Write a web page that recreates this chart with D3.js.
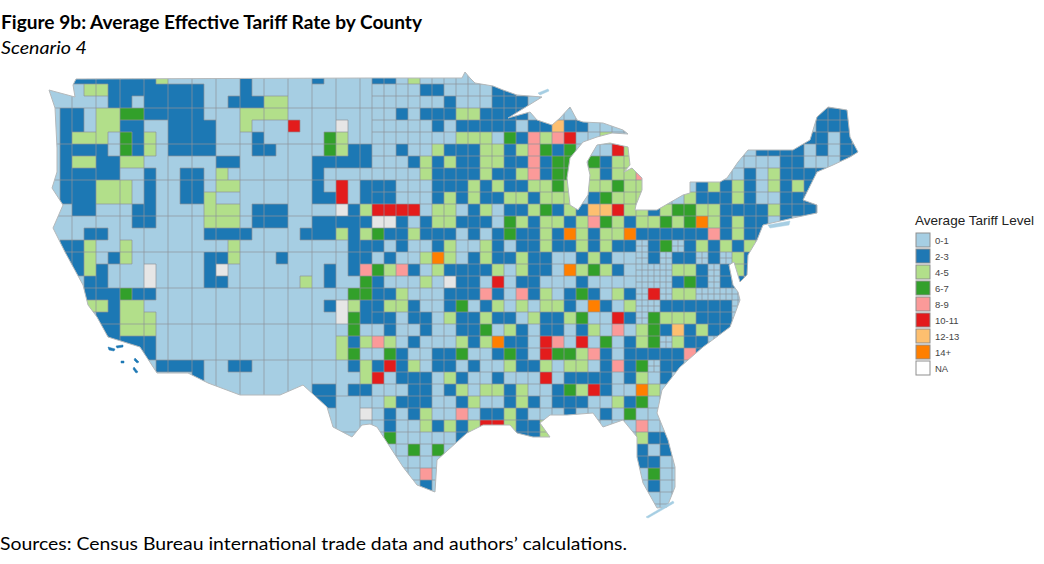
<!DOCTYPE html>
<html><head><meta charset="utf-8">
<script src="https://cdn.jsdelivr.net/npm/d3@7"></script>
<style>html,body{margin:0;padding:0;background:#fff;overflow:hidden}svg{display:block}</style>
</head><body><svg id="c" width="1044" height="564"></svg>
<script>
const titleText="Figure 9b: Average Effective Tariff Rate by County";
const subtitleText="Scenario 4";
const sourceText="Sources: Census Bureau international trade data and authors’ calculations.";
const legendTitle="Average Tariff Level";
const classKeys=[".","b","g","G","p","r","y","o","n"];
const legendLabels=["0-1","2-3","4-5","6-7","8-9","10-11","12-13","14+","NA"];
const legendColors=["#a6cee3","#1f78b4","#b2df8a","#33a02c","#fb9a99","#e31a1c","#fdbf6f","#ff7f00","#ffffff"];
// county tariff class on a regular map grid
const countyRows=[
"..bbbbbbbg......b.....b....bb.g",
"...ggbbbbbbbb...b..............bb....bb",
".....bb.bbbbb..bbbgg.............b...bbb.........................b",
".bb.ggGGbbbbb...gggg.........b.bbbggbbbb........................bbb",
".bb.ggbb..bbbb..g...r...n.......b.bbbbb.bbybb...................bbb",
".bggg.Gbg.bbbb...b.....Gg.........ggg.Gbpgpr..g................bb.b",
".bbbb.Gbg.bbbb...bb....Ggbb..b..gbbbggbgpGbG...rg..........bbbb.b.bb",
".bggbbgg......bb......bbbbb...bgbgbbggbbpbGG.Gbgg............bb...b",
".bbbbb..b..bb.g.......b........gbbbbgbbgpbGG.gbggp........b.gbbbb",
".bbbggg.b..bb.gg......b.r.bbb...bbbgbgbbggGg.ggGgg....bgbgb.gbgbb",
".bbbggg.b..bbg........bbr.bbb...bgbgbbggbggg.bGggg...gbbbgb..bbb",
"..bb...bb....ggg.bbb....nbgrrrr.gg.bg.bbgGbgbyyrggbgGGggbbbbgbbbb",
".......bb....ggg.bbb..bbbbbnnb.bggbbb.GgbggbgpGgbggGgGogbgbb.b",
"...bb........bbbb....bbbgbgGbbgbbb.b.bGbbgbogbggobbbbbbpbgbb",
".bbg..g........g.........bbb.b..bg..gb.bbgbbgbgbb.bG.bgbgbg",
".bbg.bg......bbg...b.....bb.b..gog.bgbbgbb..bgb...b.bb.b.gbb",
".bbgb...n....bn........b.bpGgpb.gbbbbg.gbb.ogGgb....ggb.bgb",
"...bb...n....bb......g.b..Gb...g.nbb.r.bb...b.......bGb.bb",
"...bbbGbb................GGbbg...bbbpb.pbg.bGb.gb.r.gg.",
"...ggbgg...............bngbbggb..bG.bg.g.ggb.ob.g..bbbbbb",
"....bbggg...............nGbbb.bb.gbbgbb.gbbgG..rb.Ggggbbb",
"....bbggg................G..b..b..bbG.gb.bb.bg.p.gGbybgbb",
".....bbbb...............gbgpg.b...gbgobb.rp.r.G.bgG.gbb",
".......bb...............gG..Gb..bbG..bGb.rGGgpb.bbbbbpb",
".........bbbb..bb........bgbrbg.bb.b..gbbg.gg.bpbG.bb",
"............b.............gr.bbb.gb..b...r.bbbb.bg.b",
"......................bb.bb...bb.bg.ggbg..bGgrb..og",
"......................bb....gbbb..bg..bgb.bbb..gbG",
"..........................n.b.bg..p.bbgb...b..b.G",
"............................b..gbgbgrrgbbgg......p",
"............................G.....b....bbg.......gbb",
"..............................G.G................b.b",
".................................................bb",
"...............................p..................G",
"...............................b..................b",
"",
""
];
// national outline, in map units
const outline=[[1,18],[27,25],[25,13],[28,7],[322,6],[414,6],[417,0],[422,6],[427,11],[445,14],[455,18],[469,23],[494,25],[460,46],[482,40],[489,48],[504,53],[512,46],[522,35],[529,48],[535,50],[555,51],[575,58],[580,62],[564,61],[549,65],[535,70],[522,86],[519,106],[522,133],[530,138],[540,123],[542,103],[539,90],[549,73],[562,71],[580,75],[582,93],[576,100],[584,96],[594,106],[594,118],[588,133],[587,138],[609,138],[635,123],[642,121],[642,110],[672,110],[679,106],[690,90],[700,78],[745,78],[762,68],[769,45],[780,35],[799,38],[802,65],[810,80],[802,85],[785,93],[769,100],[760,118],[755,128],[769,133],[769,141],[759,143],[745,146],[715,153],[709,168],[700,183],[699,203],[692,210],[686,190],[681,193],[685,213],[690,220],[692,228],[682,255],[655,275],[632,295],[614,318],[609,341],[620,368],[627,395],[627,415],[619,435],[609,436],[595,411],[589,385],[589,365],[575,348],[555,355],[545,341],[519,343],[502,343],[492,351],[502,365],[485,365],[469,361],[462,353],[435,353],[419,361],[389,388],[387,420],[369,413],[355,395],[342,375],[329,355],[322,352],[314,353],[304,365],[285,355],[279,335],[255,313],[232,323],[192,323],[160,311],[140,301],[109,301],[92,275],[60,265],[49,245],[40,233],[35,213],[17,180],[5,156],[15,133],[4,116],[9,100],[9,76],[7,36]];
const islands=[
 {c:".",p:[[720,153],[742,149],[741,153],[722,156]]},
 {c:"b",p:[[60,275],[67,277],[66,279],[61,278]]},
 {c:"b",p:[[68,274],[75,273],[75,275],[69,276]]},
 {c:"b",p:[[73,289],[76,289],[76,291],[73,291]]},
 {c:"b",p:[[87,286],[91,290],[89,291],[86,288]]},
 {c:"b",p:[[86,295],[90,300],[88,301],[85,297]]},
 {c:".",p:[[598,445],[625,429],[626,431],[600,446]]},
 {c:".",p:[[490,21],[500,17],[501,19],[492,23]]}
];

const svg=d3.select("#c");
const nCols=68,nRows=countyRows.length;
const x=d3.scaleBand().domain(d3.range(nCols)).range([48,864]);
const y=d3.scaleBand().domain(d3.range(nRows)).range([72,516]);
const mapX=d3.scaleLinear().domain([0,816]).range([48,864]);
const mapY=d3.scaleLinear().domain([0,444]).range([72,516]);
const colorOf=d3.scaleOrdinal().domain(classKeys).range(["#a6cee3","#1f78b4","#b2df8a","#33a02c","#fb9a99","#e31a1c","#fdbf6f","#ff7f00","#e6e6e6"]);
const line=d3.line().x(d=>mapX(d[0])).y(d=>mapY(d[1])).curve(d3.curveLinearClosed);
const cellAt=(r,c)=>(countyRows[r]||"")[c]||".";

svg.append("clipPath").attr("id","us").append("path").attr("d",line(outline));
const defs=svg.append("defs");
defs.append("filter").attr("id","soft").append("feGaussianBlur").attr("stdDeviation",0.35);
const map=svg.append("g").attr("filter","url(#soft)");
const inner=map.append("g").attr("clip-path","url(#us)");
const cells=[];
d3.range(nRows).forEach(r=>d3.range(nCols).forEach(c=>cells.push({r,c,k:cellAt(r,c)})));
inner.selectAll("rect").data(cells).join("rect")
 .attr("x",d=>x(d.c)).attr("y",d=>y(d.r)).attr("width",x.bandwidth()+.3).attr("height",y.bandwidth()+.3)
 .attr("fill",d=>colorOf(d.k));
// county boundaries: every cell edge in the east, a coarser mesh in the west, and wherever classes differ
const edges=d3.path();
const eastFrom=27;
d3.range(nRows).forEach(r=>d3.range(nCols).forEach(c=>{
  const east=c>=eastFrom;
  if(c>0&&(east||c%2===0||cellAt(r,c)!==cellAt(r,c-1))){edges.moveTo(x(c),y(r));edges.lineTo(x(c),y(r)+y.bandwidth());}
  if(r>0&&(east||r%3===0||cellAt(r,c)!==cellAt(r-1,c))){edges.moveTo(x(c),y(r));edges.lineTo(x(c)+x.bandwidth(),y(r));}
  // the small counties of the Appalachian states
  if(c>=49&&c<=57&&r>=13&&r<=24&&cellAt(r,c)==="."){
    const mx=x(c)+x.bandwidth()/2,my=y(r)+y.bandwidth()/2;
    edges.moveTo(mx,y(r));edges.lineTo(mx,y(r)+y.bandwidth());
    edges.moveTo(x(c),my);edges.lineTo(x(c)+x.bandwidth(),my);
  }
}));
inner.append("path").attr("d",edges.toString()).attr("fill","none").attr("stroke","#8c9499").attr("stroke-width",0.7);
map.append("path").attr("d",line(outline)).attr("fill","none").attr("stroke","#b4b8ba").attr("stroke-width",1);
map.selectAll("path.isl").data(islands).join("path").attr("class","isl")
 .attr("d",d=>line(d.p)).attr("fill",d=>colorOf(d.c)).attr("stroke",d=>colorOf(d.c)).attr("stroke-width",.5);

svg.append("text").attr("x",1).attr("y",29).attr("font-family","Lato,sans-serif").attr("font-weight",700)
 .attr("font-size",18).attr("textLength",421).attr("lengthAdjust","spacingAndGlyphs").attr("fill","#000").text(titleText);
svg.append("text").attr("x",1).attr("y",54).attr("font-family","Lato,sans-serif").attr("font-style","italic")
 .attr("font-size",18).attr("textLength",86).attr("lengthAdjust","spacingAndGlyphs").attr("fill","#000").text(subtitleText);
svg.append("text").attr("x",0).attr("y",550).attr("font-family","Lato,sans-serif")
 .attr("font-size",18).attr("textLength",627).attr("lengthAdjust","spacingAndGlyphs").attr("fill","#000").text(sourceText);

const lg=svg.append("g");
lg.append("text").attr("x",915).attr("y",225).attr("font-family","'Liberation Sans',sans-serif").attr("font-size",13)
 .attr("textLength",119).attr("lengthAdjust","spacingAndGlyphs").attr("fill","#222").text(legendTitle);
const ly=d3.scalePoint().domain(legendLabels).range([240,368]);
const row=lg.selectAll("g").data(legendLabels).join("g").attr("transform",d=>`translate(0,${ly(d)})`);
row.append("rect").attr("x",916).attr("y",-7).attr("width",14).attr("height",14)
 .attr("fill",(d,i)=>legendColors[i]).attr("stroke","#8f8f8f").attr("stroke-width",1);
row.append("text").attr("x",935).attr("y",3.5).attr("font-family","'Liberation Sans',sans-serif").attr("font-size",9.5)
 .attr("fill","#444").text(d=>d);
</script></body></html>
